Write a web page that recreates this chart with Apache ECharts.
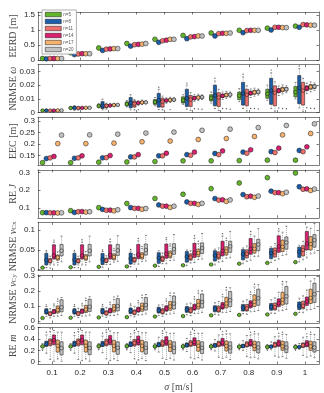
<!DOCTYPE html>
<html><head><meta charset="utf-8">
<script src="https://cdn.jsdelivr.net/npm/echarts@6/dist/echarts.min.js"></script>
<style>html,body{margin:0;padding:0;background:#fff}#c{width:324px;height:393px}</style>
</head><body><div id="c"></div>
<script>
const sigmaLabels = ['0.1','0.2','0.3','0.4','0.5','0.6','0.7','0.8','0.9','1'];
const nLabels = ['n=5','n=8','n=11','n=14','n=17','n=20'];

// Panel 1: EERD [m]  (rows: n=5..n=20, cols: sigma 0.1..1)
const eerd = [
  [0.05,0.24,0.40,0.55,0.69,0.82,0.90,0.99,1.06,1.13],
  [0.04,0.18,0.32,0.46,0.59,0.71,0.80,0.91,1.00,1.09],
  [0.05,0.20,0.36,0.51,0.64,0.77,0.88,0.98,1.09,1.18],
  [0.05,0.21,0.37,0.52,0.66,0.78,0.89,0.99,1.09,1.17],
  [0.05,0.21,0.38,0.53,0.69,0.80,0.89,0.99,1.08,1.16],
  [0.05,0.21,0.38,0.55,0.69,0.80,0.90,0.99,1.08,1.16]
];

// Panel 2: NRMSE omega (box stats)
const nrmseW_lo = [
  [0.0010,0.0025,0.0035,0.0042,0.0050,0.0060,0.0070,0.0080,0.0090,0.0100],
  [0.0010,0.0015,0.0020,0.0020,0.0022,0.0025,0.0030,0.0030,0.0030,0.0035],
  [0.0010,0.0020,0.0025,0.0020,0.0020,0.0015,0.0015,0.0012,0.0010,0.0010],
  [0.0010,0.0026,0.0040,0.0054,0.0068,0.0082,0.0096,0.0110,0.0125,0.0140],
  [0.0011,0.0027,0.0043,0.0058,0.0074,0.0088,0.0104,0.0120,0.0136,0.0152],
  [0.0012,0.0029,0.0047,0.0064,0.0080,0.0096,0.0112,0.0128,0.0145,0.0162]
];
const nrmseW_q1 = [
  [0.0012,0.0028,0.0040,0.0050,0.0060,0.0070,0.0085,0.0095,0.0105,0.0115],
  [0.0012,0.0025,0.0030,0.0035,0.0040,0.0045,0.0050,0.0055,0.0060,0.0065],
  [0.0012,0.0025,0.0035,0.0040,0.0040,0.0045,0.0045,0.0050,0.0050,0.0055],
  [0.0012,0.0030,0.0046,0.0062,0.0078,0.0094,0.0110,0.0128,0.0145,0.0160],
  [0.0013,0.0031,0.0049,0.0066,0.0083,0.0099,0.0116,0.0134,0.0152,0.0170],
  [0.0014,0.0032,0.0051,0.0069,0.0087,0.0104,0.0121,0.0139,0.0158,0.0176]
];
const nrmseW_med = [
  [0.0015,0.0033,0.0048,0.0062,0.0077,0.0090,0.0107,0.0123,0.0137,0.0150],
  [0.0015,0.0035,0.0050,0.0070,0.0090,0.0105,0.0125,0.0140,0.0160,0.0180],
  [0.0015,0.0033,0.0050,0.0065,0.0080,0.0095,0.0110,0.0130,0.0145,0.0160],
  [0.0015,0.0034,0.0052,0.0070,0.0088,0.0105,0.0122,0.0142,0.0160,0.0178],
  [0.0016,0.0035,0.0055,0.0074,0.0092,0.0110,0.0128,0.0148,0.0168,0.0187],
  [0.0016,0.0035,0.0056,0.0075,0.0094,0.0113,0.0131,0.0151,0.0171,0.0190]
];
const nrmseW_q3 = [
  [0.0018,0.0040,0.0058,0.0078,0.0095,0.0115,0.0130,0.0150,0.0170,0.0190],
  [0.0020,0.0045,0.0080,0.0110,0.0140,0.0170,0.0200,0.0220,0.0250,0.0270],
  [0.0018,0.0040,0.0060,0.0085,0.0105,0.0125,0.0145,0.0170,0.0195,0.0220],
  [0.0018,0.0038,0.0058,0.0078,0.0098,0.0117,0.0135,0.0156,0.0176,0.0195],
  [0.0019,0.0040,0.0061,0.0083,0.0102,0.0122,0.0141,0.0163,0.0185,0.0205],
  [0.0018,0.0039,0.0060,0.0081,0.0101,0.0121,0.0140,0.0162,0.0183,0.0203]
];
const nrmseW_hi = [
  [0.0020,0.0045,0.0065,0.0088,0.0110,0.0130,0.0150,0.0175,0.0200,0.0220],
  [0.0025,0.0050,0.0098,0.0130,0.0170,0.0200,0.0230,0.0260,0.0290,0.0320],
  [0.0020,0.0045,0.0068,0.0095,0.0120,0.0145,0.0170,0.0195,0.0225,0.0250],
  [0.0020,0.0042,0.0064,0.0086,0.0108,0.0130,0.0150,0.0172,0.0194,0.0215],
  [0.0021,0.0044,0.0067,0.0091,0.0112,0.0134,0.0155,0.0178,0.0202,0.0224],
  [0.0020,0.0042,0.0065,0.0087,0.0108,0.0129,0.0150,0.0172,0.0195,0.0216]
];
// outliers: [sigma index, n index, value]
const nrmseW_out = [
  [4,1,0.0185],[5,1,0.0215],[6,1,0.025],[7,1,0.028],[8,1,0.031],[9,1,0.034],
  [3,3,0.0022],[4,4,0.0022],[5,3,0.0028],[5,4,0.0026],[5,5,0.0024],
  [6,3,0.003],[6,4,0.0028],[6,5,0.0025],[7,3,0.003],[7,4,0.003],[7,5,0.0026],
  [8,3,0.0034],[8,4,0.003],[8,5,0.0028],[9,3,0.0035],[9,4,0.0032],[9,5,0.003]
];

// Panel 3: EEC [m]
const eec = [
  [0.119,0.119,0.121,0.122,0.124,0.127,0.127,0.128,0.130,0.130],
  [0.137,0.138,0.140,0.144,0.149,0.154,0.159,0.165,0.167,0.172],
  [0.140,0.140,0.141,0.144,0.149,0.151,0.154,0.160,0.163,0.167],
  [0.146,0.149,0.150,0.154,0.160,0.165,0.170,0.175,0.182,0.188],
  [0.202,0.202,0.204,0.210,0.213,0.220,0.224,0.233,0.240,0.246],
  [0.239,0.240,0.243,0.248,0.252,0.260,0.265,0.272,0.281,0.288]
];

// Panel 4: RE J
const reJ = [
  [0.074,0.085,0.102,0.125,0.153,0.177,0.208,0.240,0.270,0.296],
  [0.074,0.075,0.092,0.102,0.117,0.134,0.153,0.175,0.194,0.219],
  [0.073,0.079,0.087,0.098,0.110,0.126,0.144,0.163,0.186,0.205],
  [0.073,0.080,0.088,0.098,0.110,0.126,0.146,0.166,0.186,0.207],
  [0.072,0.077,0.084,0.093,0.103,0.120,0.137,0.160,0.180,0.198],
  [0.073,0.079,0.090,0.097,0.110,0.126,0.145,0.167,0.188,0.206]
];

// Panel 5: NRMSE v_Cx (box stats)
const vcx_lo = [
  [0.003,0.004,0.005,0.006,0.008,0.009,0.011,0.013,0.015,0.017],
  [0.005,0.005,0.006,0.007,0.008,0.010,0.012,0.015,0.018,0.020],
  [0.012,0.012,0.013,0.014,0.015,0.017,0.019,0.021,0.023,0.025],
  [0.012,0.012,0.013,0.014,0.015,0.018,0.021,0.024,0.027,0.030],
  [0.018,0.018,0.019,0.021,0.023,0.026,0.029,0.033,0.036,0.040],
  [0.020,0.020,0.021,0.022,0.024,0.027,0.030,0.034,0.038,0.042]
];
const vcx_q1 = [
  [0.004,0.005,0.006,0.007,0.009,0.010,0.012,0.014,0.016,0.018],
  [0.012,0.012,0.013,0.014,0.016,0.019,0.022,0.025,0.028,0.031],
  [0.017,0.017,0.018,0.019,0.021,0.024,0.027,0.030,0.032,0.035],
  [0.027,0.027,0.027,0.028,0.029,0.031,0.035,0.039,0.044,0.050],
  [0.024,0.024,0.025,0.027,0.030,0.033,0.037,0.042,0.046,0.050],
  [0.035,0.035,0.036,0.037,0.039,0.041,0.044,0.048,0.052,0.057]
];
const vcx_med = [
  [0.005,0.006,0.007,0.008,0.010,0.011,0.013,0.015,0.017,0.019],
  [0.024,0.025,0.026,0.028,0.030,0.033,0.036,0.039,0.042,0.045],
  [0.022,0.022,0.023,0.025,0.027,0.031,0.035,0.040,0.044,0.050],
  [0.036,0.036,0.037,0.038,0.040,0.043,0.048,0.053,0.059,0.066],
  [0.031,0.031,0.032,0.035,0.038,0.042,0.047,0.053,0.058,0.065],
  [0.048,0.048,0.049,0.050,0.052,0.055,0.059,0.064,0.069,0.075]
];
const vcx_q3 = [
  [0.006,0.007,0.008,0.009,0.011,0.012,0.014,0.016,0.018,0.020],
  [0.041,0.041,0.041,0.042,0.043,0.046,0.048,0.051,0.054,0.057],
  [0.028,0.028,0.029,0.031,0.034,0.040,0.045,0.050,0.055,0.061],
  [0.063,0.063,0.063,0.064,0.065,0.067,0.072,0.079,0.086,0.097],
  [0.037,0.038,0.040,0.043,0.047,0.052,0.058,0.066,0.075,0.084],
  [0.064,0.064,0.064,0.065,0.066,0.068,0.072,0.077,0.083,0.089]
];
const vcx_hi = [
  [0.007,0.008,0.009,0.010,0.012,0.013,0.015,0.017,0.019,0.021],
  [0.045,0.045,0.046,0.047,0.048,0.050,0.052,0.055,0.058,0.062],
  [0.034,0.034,0.035,0.038,0.042,0.048,0.055,0.060,0.066,0.072],
  [0.070,0.070,0.071,0.073,0.076,0.080,0.085,0.090,0.098,0.108],
  [0.045,0.046,0.049,0.054,0.060,0.066,0.074,0.085,0.095,0.105],
  [0.085,0.085,0.086,0.087,0.089,0.092,0.097,0.104,0.110,0.117]
];
const vcx_out = [
  [0,3,0.075],[1,3,0.076],[2,3,0.077],[3,3,0.079],[4,3,0.081],[5,3,0.086],[6,3,0.091],[7,3,0.097],[8,3,0.104],
  [0,1,0.049],[1,1,0.049],[2,1,0.05],[3,1,0.051],
  [2,4,0.054],[3,4,0.059],[4,4,0.065],[5,4,0.072],[6,4,0.08],
  [0,2,0.004],[1,2,0.005],[0,4,0.012],[1,4,0.012]
];

// Panel 6: NRMSE v_Cy (box stats)
const vcy_lo = [
  [0.014,0.016,0.018,0.020,0.023,0.026,0.030,0.033,0.036,0.040],
  [0.030,0.030,0.031,0.033,0.036,0.040,0.043,0.047,0.050,0.055],
  [0.020,0.021,0.023,0.026,0.030,0.034,0.038,0.043,0.048,0.054],
  [0.030,0.031,0.034,0.038,0.043,0.048,0.054,0.060,0.066,0.072],
  [0.030,0.032,0.035,0.040,0.045,0.050,0.056,0.062,0.068,0.075],
  [0.035,0.037,0.040,0.045,0.050,0.056,0.062,0.068,0.075,0.082]
];
const vcy_q1 = [
  [0.016,0.018,0.020,0.022,0.026,0.029,0.033,0.036,0.039,0.043],
  [0.045,0.045,0.046,0.048,0.052,0.056,0.060,0.065,0.070,0.075],
  [0.035,0.036,0.038,0.041,0.046,0.052,0.058,0.065,0.072,0.080],
  [0.048,0.050,0.053,0.058,0.064,0.071,0.078,0.086,0.094,0.102],
  [0.052,0.055,0.058,0.063,0.070,0.078,0.086,0.095,0.105,0.115],
  [0.060,0.062,0.066,0.071,0.078,0.086,0.094,0.103,0.112,0.122]
];
const vcy_med = [
  [0.018,0.020,0.022,0.024,0.028,0.031,0.036,0.039,0.042,0.046],
  [0.062,0.062,0.063,0.065,0.070,0.075,0.080,0.087,0.093,0.100],
  [0.046,0.047,0.050,0.054,0.060,0.067,0.074,0.082,0.090,0.100],
  [0.060,0.062,0.066,0.072,0.080,0.088,0.097,0.107,0.117,0.128],
  [0.072,0.075,0.080,0.087,0.095,0.105,0.115,0.127,0.140,0.152],
  [0.090,0.093,0.098,0.105,0.114,0.125,0.137,0.150,0.163,0.177]
];
const vcy_q3 = [
  [0.020,0.022,0.024,0.026,0.030,0.033,0.039,0.042,0.045,0.049],
  [0.080,0.080,0.082,0.085,0.090,0.095,0.100,0.108,0.115,0.125],
  [0.060,0.062,0.066,0.072,0.080,0.089,0.098,0.108,0.118,0.130],
  [0.075,0.078,0.083,0.090,0.100,0.110,0.121,0.133,0.146,0.158],
  [0.098,0.102,0.108,0.117,0.128,0.142,0.156,0.172,0.190,0.210],
  [0.140,0.143,0.148,0.155,0.165,0.178,0.195,0.210,0.228,0.250]
];
const vcy_hi = [
  [0.022,0.024,0.026,0.028,0.033,0.036,0.042,0.045,0.048,0.052],
  [0.095,0.095,0.097,0.100,0.105,0.112,0.120,0.130,0.140,0.150],
  [0.080,0.083,0.088,0.096,0.106,0.117,0.128,0.140,0.152,0.166],
  [0.100,0.104,0.110,0.120,0.132,0.145,0.160,0.175,0.190,0.205],
  [0.130,0.135,0.142,0.154,0.168,0.185,0.205,0.225,0.245,0.265],
  [0.155,0.160,0.165,0.175,0.185,0.200,0.220,0.240,0.260,0.280]
];
const vcy_out = [
  [0,4,0.145],[1,4,0.15],[2,4,0.158],[3,4,0.17],[4,4,0.185],[5,4,0.2],[6,4,0.222],[7,4,0.243],[8,4,0.262],
  [0,3,0.112],[1,3,0.116],[2,3,0.123],[3,3,0.134],[4,3,0.146],[5,3,0.16],[6,3,0.176],[7,3,0.192],
  [0,1,0.106],[1,1,0.107],[2,1,0.109],[3,1,0.112]
];

// Panel 7: RE m (box stats)
const rem_lo = [
  [0.22,0.22,0.23,0.23,0.23,0.23,0.23,0.23,0.22,0.22],
  [0.15,0.15,0.16,0.16,0.17,0.18,0.19,0.20,0.21,0.22],
  [0.04,0.04,0.05,0.05,0.06,0.07,0.08,0.09,0.10,0.11],
  [0.01,0.02,0.02,0.03,0.04,0.05,0.06,0.07,0.08,0.08],
  [0.05,0.05,0.05,0.06,0.06,0.07,0.08,0.08,0.09,0.10],
  [0.01,0.01,0.02,0.02,0.03,0.03,0.04,0.05,0.06,0.07]
];
const rem_q1 = [
  [0.25,0.25,0.255,0.255,0.25,0.25,0.25,0.245,0.24,0.24],
  [0.27,0.27,0.27,0.27,0.265,0.26,0.255,0.25,0.245,0.24],
  [0.28,0.28,0.28,0.275,0.27,0.27,0.265,0.26,0.255,0.25],
  [0.30,0.30,0.30,0.295,0.29,0.285,0.28,0.275,0.27,0.265],
  [0.17,0.17,0.175,0.175,0.18,0.185,0.19,0.195,0.20,0.20],
  [0.12,0.125,0.13,0.135,0.14,0.145,0.15,0.155,0.16,0.17]
];
const rem_med = [
  [0.27,0.27,0.275,0.275,0.27,0.27,0.27,0.265,0.26,0.26],
  [0.31,0.31,0.30,0.30,0.295,0.29,0.285,0.275,0.265,0.26],
  [0.34,0.34,0.335,0.33,0.32,0.315,0.31,0.30,0.295,0.29],
  [0.38,0.38,0.37,0.365,0.355,0.345,0.335,0.325,0.315,0.305],
  [0.28,0.28,0.28,0.28,0.28,0.28,0.275,0.275,0.27,0.27],
  [0.24,0.24,0.245,0.245,0.245,0.245,0.25,0.25,0.25,0.25]
];
const rem_q3 = [
  [0.29,0.29,0.295,0.295,0.29,0.29,0.29,0.285,0.28,0.28],
  [0.36,0.36,0.355,0.35,0.34,0.33,0.32,0.305,0.29,0.275],
  [0.40,0.40,0.395,0.39,0.38,0.37,0.36,0.35,0.34,0.33],
  [0.47,0.47,0.46,0.45,0.44,0.42,0.41,0.39,0.38,0.37],
  [0.38,0.38,0.375,0.375,0.37,0.37,0.365,0.36,0.36,0.36],
  [0.35,0.35,0.35,0.35,0.35,0.35,0.35,0.35,0.35,0.35]
];
const rem_hi = [
  [0.32,0.32,0.32,0.32,0.32,0.31,0.31,0.31,0.30,0.30],
  [0.47,0.46,0.45,0.44,0.43,0.41,0.39,0.37,0.35,0.32],
  [0.53,0.53,0.52,0.51,0.50,0.48,0.47,0.46,0.44,0.43],
  [0.55,0.55,0.54,0.53,0.52,0.50,0.48,0.47,0.45,0.44],
  [0.52,0.52,0.51,0.51,0.50,0.50,0.49,0.49,0.48,0.48],
  [0.52,0.52,0.51,0.51,0.50,0.50,0.49,0.49,0.48,0.48]
];
const rem_out = [
  [0,1,0.52],[1,1,0.51],[2,1,0.5],[3,1,0.49],
  [0,2,0.58],[1,2,0.57],[2,2,0.56],[3,2,0.55],[4,2,0.54],[5,2,0.52],
  [0,0,0.2],[1,0,0.2],[2,0,0.21],[3,0,0.21],[4,0,0.21],[5,0,0.21],[6,0,0.21],[7,0,0.21],[8,0,0.2],[9,0,0.2],
  [5,3,0.55],[6,3,0.53],[7,3,0.52],[8,3,0.5],[9,3,0.49],
  [6,4,0.54],[7,4,0.53],[8,4,0.52],[9,4,0.52]
];

// ---------- styling / layout ----------
const colors = ['#63b52b','#1b5faa','#ef6f6c','#d9216f','#f6b26f','#c2c2c2'];
const SP = 3.8, BW = 3.2;
const TOP0 = 12, PERIOD = 52.6, H = 48;
const axisColor = '#262626';
const serif = 'Liberation Serif';
const sans = 'Liberation Sans';
const LABEL_MARGIN = 3, GRID_LEFT = 33;

const panels = [
  {name:'EERD [m]', min:0, max:1.6, ticks:[0,0.5,1,1.5], type:'dot', data:eerd},
  {name:'NRMSE {i|ω}', min:0, max:0.035, ticks:[0,0.01,0.02,0.03], type:'box',
   box:[nrmseW_lo,nrmseW_q1,nrmseW_med,nrmseW_q3,nrmseW_hi], out:nrmseW_out},
  {name:'EEC [m]', min:0.108, max:0.317, ticks:[0.15,0.2,0.25,0.3], type:'dot', data:eec},
  {name:'RE {i|J}', min:0.045, max:0.314, ticks:[0.1,0.2,0.3], type:'dot', data:reJ, manualLabels:true},
  {name:'NRMSE {i|v}{s|Cx}', min:-0.002, max:0.12, ticks:[0,0.05,0.1], type:'box',
   box:[vcx_lo,vcx_q1,vcx_med,vcx_q3,vcx_hi], out:vcx_out},
  {name:'NRMSE {i|v}{s|Cy}', min:-0.015, max:0.305, ticks:[0,0.1,0.2,0.3], type:'box',
   box:[vcy_lo,vcy_q1,vcy_med,vcy_q3,vcy_hi], out:vcy_out},
  {name:'RE {i|m}', min:-0.04, max:0.6, ticks:[0,0.2,0.4,0.6], type:'box',
   box:[rem_lo,rem_q1,rem_med,rem_q3,rem_hi], out:rem_out}
];

const nameColor = '#4a4a4a';
const grids = [], xAxes = [], yAxes = [], series = [];
panels.forEach((p, pi) => {
  grids.push({left:GRID_LEFT, right:5, top:TOP0 + pi*PERIOD, height:H, show:false});
  const last = pi === panels.length - 1;
  const baseX = {
    type:'category', gridIndex:pi, data:sigmaLabels, boundaryGap:true,
    axisLine:{show:true, onZero:false, lineStyle:{color:axisColor, width:0.6}},
    axisTick:{show:true, inside:true, length:2.5, alignWithLabel:true, lineStyle:{color:axisColor, width:0.6}},
    splitLine:{show:false}
  };
  xAxes.push(Object.assign({}, baseX, {position:'bottom',
    axisLabel:{show:last, fontSize:8, color:axisColor, fontFamily:sans, margin:5},
    name: last ? '{i|σ} [m/s]' : '', nameLocation:'middle', nameGap:18,
    nameTextStyle:{fontFamily:serif, fontSize:10, color:nameColor, rich:{i:{fontStyle:'italic', fontFamily:serif, fontSize:10, color:nameColor}}}
  }));
  xAxes.push(Object.assign({}, baseX, {position:'top', axisLabel:{show:false}}));
  const baseY = {
    type:'value', gridIndex:pi, min:p.min, max:p.max,
    axisLine:{show:true, lineStyle:{color:axisColor, width:0.6}},
    axisTick:{show:true, inside:true, length:2.5, customValues:p.ticks, lineStyle:{color:axisColor, width:0.6}},
    splitLine:{show:false}
  };
  yAxes.push(Object.assign({}, baseY, {position:'left',
    axisLabel:{show:!p.manualLabels, customValues:p.ticks, fontSize:8, color:axisColor, fontFamily:sans,
               margin:LABEL_MARGIN, hideOverlap:false, showMinLabel:true, showMaxLabel:true},
    name:p.name, nameLocation:'middle', nameGap:20, nameMoveOverlap:false,
    nameTextStyle:{fontFamily:serif, fontSize:10, color:nameColor,
      rich:{i:{fontStyle:'italic', fontFamily:serif, fontSize:10, color:nameColor},
            s:{fontFamily:serif, fontSize:7, color:nameColor, verticalAlign:'bottom'}}}
  }));
  yAxes.push(Object.assign({}, baseY, {position:'right', axisLabel:{show:false}}));

  nLabels.forEach((nm, k) => {
    const off = (k - 2.5) * SP;
    if (p.type === 'dot') {
      series.push({
        type:'scatter', name:nm, xAxisIndex:pi*2, yAxisIndex:pi*2,
        symbol:'circle', symbolSize:4.8, symbolOffset:[off,0],
        itemStyle:{color:colors[k], borderColor:'#111', borderWidth:0.5, opacity:1},
        data:p.data[k].map((v,i)=>[i,v]), silent:true
      });
    } else {
      const [lo,q1,med,q3,hi] = p.box;
      series.push({
        type:'custom', name:nm, xAxisIndex:pi*2, yAxisIndex:pi*2,
        itemStyle:{color:colors[k]},
        encode:{x:0, y:[1,2,3,4,5]},
        data:sigmaLabels.map((s,i)=>[i, lo[k][i], q1[k][i], med[k][i], q3[k][i], hi[k][i]]),
        silent:true,
        renderItem:function(params, api){
          const c = api.value(0);
          const pl = api.coord([c, api.value(1)]);
          const x = pl[0] + off;
          const yLo = pl[1];
          const yQ1 = api.coord([c, api.value(2)])[1];
          const yMed = api.coord([c, api.value(3)])[1];
          const yQ3 = api.coord([c, api.value(4)])[1];
          const yHi = api.coord([c, api.value(5)])[1];
          const hw = BW/2;
          const dash = {stroke:'#555', lineWidth:0.5, lineDash:[1,1]};
          const solid = {stroke:'#111', lineWidth:0.5};
          return {type:'group', children:[
            {type:'line', shape:{x1:x,y1:yQ3,x2:x,y2:yHi}, style:dash},
            {type:'line', shape:{x1:x,y1:yQ1,x2:x,y2:yLo}, style:dash},
            {type:'line', shape:{x1:x-1,y1:yHi,x2:x+1,y2:yHi}, style:solid},
            {type:'line', shape:{x1:x-1,y1:yLo,x2:x+1,y2:yLo}, style:solid},
            {type:'rect', shape:{x:x-hw, y:yQ3, width:BW, height:Math.max(yQ1-yQ3,0.6)},
             style:{fill:colors[k], stroke:'#111', lineWidth:0.5}},
            {type:'line', shape:{x1:x-hw,y1:yMed,x2:x+hw,y2:yMed}, style:{stroke:'#111', lineWidth:0.6}},
            {type:'circle', shape:{cx:x, cy:yMed, r:1.8}, style:{fill:colors[k], stroke:'#111', lineWidth:0.5}}
          ]};
        }
      });
    }
  });
  if (p.out) {
    series.push({
      type:'scatter', name:'outliers', xAxisIndex:pi*2, yAxisIndex:pi*2,
      symbol:'circle', symbolSize:1.4, silent:true,
      itemStyle:{color:'#333'},
      data:p.out.map(o => ({value:[o[0], o[2]], symbolOffset:[(o[1]-2.5)*SP, 0]}))
    });
  }
});

const chart = echarts.init(document.getElementById('c'), null, {renderer:'canvas'});
chart.setOption({
  animation:false,
  backgroundColor:'#fff',
  grid:grids, xAxis:xAxes, yAxis:yAxes, series:series,
  legend:{
    data:nLabels, left:42, top:10, orient:'vertical',
    itemWidth:16, itemHeight:4.5, itemGap:2, padding:[2,3,2,3],
    backgroundColor:'#fff', borderColor:'#9a9a9a', borderWidth:0.8,
    icon:'rect',
    itemStyle:{borderColor:'#111', borderWidth:0.5},
    textStyle:{fontSize:4.5, color:'#555', fontFamily:sans, padding:[0,0,0,-3]},
    selectedMode:false
  }
});

// tick labels for panels whose axis labels are placed through the axis' own pixel scale
const extraLabels = [];
panels.forEach((p, pi) => {
  if (!p.manualLabels) return;
  p.ticks.forEach(v => {
    let py = null;
    try { py = chart.convertToPixel({yAxisIndex:pi*2}, v); } catch(e) {}
    if (py == null || isNaN(py)) {
      try { py = chart.convertToPixel({xAxisIndex:pi*2, yAxisIndex:pi*2}, [0, v])[1]; } catch(e) {}
    }
    if (py == null || isNaN(py)) return;
    extraLabels.push({
      type:'text', x:GRID_LEFT - LABEL_MARGIN, y:py, z:100, zlevel:1, silent:true,
      style:{text:String(v), fontSize:8, fill:axisColor, fontFamily:sans, align:'right', verticalAlign:'middle'}
    });
  });
});
if (extraLabels.length) chart.setOption({graphic:extraLabels});
</script>
</body></html>
